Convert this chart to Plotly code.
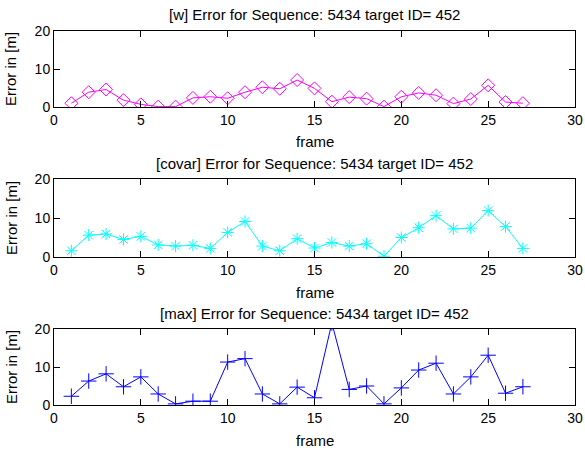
import plotly.graph_objects as go

frames = list(range(1, 28))
err_w = [1.0, 3.9, 4.6, 1.8, 0.7, 0.1, 0.1, 2.4, 2.7, 2.3, 3.9, 5.2, 4.8, 7.1, 4.9,
         1.4, 2.6, 2.2, 0.1, 2.7, 3.7, 3.1, 0.9, 2.1, 5.7, 1.3, 1.0]
err_covar = [1.6, 5.6, 5.9, 4.5, 5.3, 3.1, 2.8, 3.0, 2.2, 6.3, 9.1, 2.8, 1.6, 4.7, 2.3,
             3.7, 2.8, 3.4, 0.2, 5.0, 7.5, 10.6, 7.2, 7.4, 11.9, 7.8, 2.2]
err_max = [2.3, 6.3, 8.2, 4.8, 7.4, 2.9, 0.3, 1.0, 1.0, 11.3, 12.2, 2.9, 0.3, 4.7, 1.9,
           21.6, 4.1, 5.0, 0.3, 4.5, 9.2, 11.0, 2.9, 7.4, 13.1, 3.1, 4.8]
titles = ["[w] Error for Sequence: 5434 target ID= 452",
          "[covar] Error for Sequence: 5434 target ID= 452",
          "[max] Error for Sequence: 5434 target ID= 452"]
xtick_vals = [0, 5, 10, 15, 20, 25, 30]
ytick_vals = [0, 10, 20]
series = [err_w, err_covar, err_max]
colors = ["#ff00ff", "#00ffff", "#0000ff"]
symbols = ["diamond-open", "asterisk-open", "cross-thin-open"]
sizes = [10, 10, 11]

W, H = 585, 452
xdom = [54 / W, 575 / W]
ydoms = [(31, 107), (179, 257), (329, 405)]
font = "Liberation Sans, Arial, sans-serif"

fig = go.Figure()
layout = dict(width=W, height=H, margin=dict(l=0, r=0, t=0, b=0, autoexpand=False),
              paper_bgcolor="white", plot_bgcolor="white", showlegend=False,
              font=dict(family=font, size=14, color="black"))
annotations = []
for i, (ys, c, s, sz) in enumerate(zip(series, colors, symbols, sizes)):
    n = "" if i == 0 else str(i + 1)
    xa, ya = "x" + n, "y" + n
    fig.add_trace(go.Scatter(x=frames, y=ys, mode="lines+markers", xaxis=xa, yaxis=ya,
                             line=dict(color=c, width=1),
                             marker=dict(symbol=s, size=sz, color=c, line=dict(color=c, width=1)),
                             cliponaxis=True))
    top, bot = ydoms[i]
    common = dict(showline=True, linecolor="black", linewidth=1, mirror="ticks",
                  ticks="inside", ticklen=6, tickcolor="black", showgrid=False,
                  zeroline=False, automargin=False, tickfont=dict(family=font, size=14))
    layout["xaxis" + n] = dict(domain=xdom, range=[0, 30], tickvals=xtick_vals,
                               anchor=ya, **common)
    layout["yaxis" + n] = dict(domain=[1 - bot / H, 1 - top / H], range=[0, 20],
                               tickvals=ytick_vals, anchor=xa, **common)
    annotations.append(dict(text=titles[i], xref="paper", yref="paper",
                            x=(xdom[0] + xdom[1]) / 2, y=1 - (top - 16) / H,
                            xanchor="center", yanchor="middle", showarrow=False,
                            font=dict(family=font, size=15)))
    annotations.append(dict(text="frame", xref="paper", yref="paper",
                            x=(xdom[0] + xdom[1]) / 2, y=1 - (bot + 35) / H,
                            xanchor="center", yanchor="middle", showarrow=False,
                            font=dict(family=font, size=15)))
    annotations.append(dict(text="Error in [m]", xref="paper", yref="paper",
                            x=11 / W, y=1 - (top + bot) / 2 / H, textangle=-90,
                            xanchor="center", yanchor="middle", showarrow=False,
                            font=dict(family=font, size=15)))
layout["annotations"] = annotations
fig.update_layout(**layout)
fig.write_html("out.html")
